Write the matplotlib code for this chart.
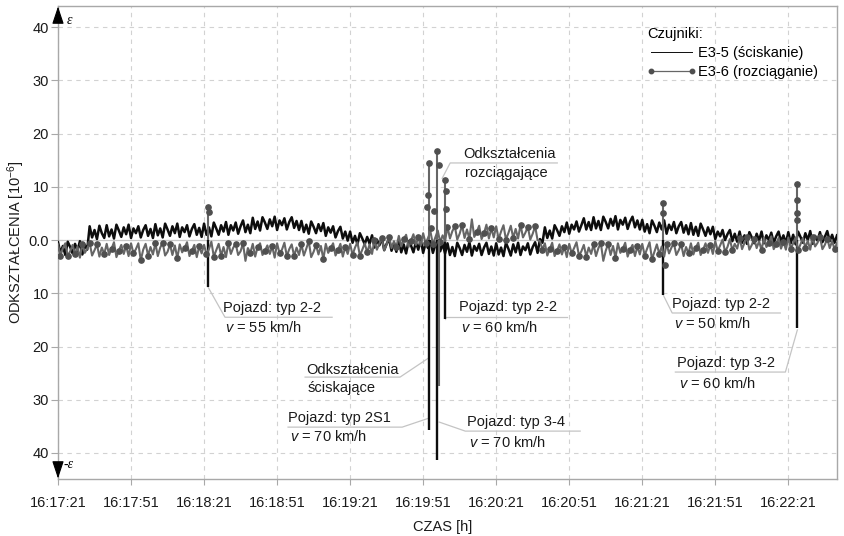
import matplotlib
matplotlib.use("Agg")
import matplotlib.pyplot as plt
from matplotlib.lines import Line2D
import numpy as np

plt.rcParams["font.family"] = ["Liberation Sans", "DejaVu Sans"]
plt.rcParams["mathtext.fontset"] = "custom"
plt.rcParams["mathtext.rm"] = "Liberation Sans"
plt.rcParams["mathtext.it"] = "Liberation Sans:italic"

# ── data (seconds from 16:17:21, strain 1e-6, + = tension) ──────────
t_step = 1
e35_vals = [  # E3-5 (compression sensor), every 1 s
    -0.4, -2.4, -1.1, -2.8, -0.3, -1.3, -2.5, -0.7, -2.0, -0.2, -2.7, -0.9, -1.8, 2.6, 0.5, 1.9, 0.2, 2.7, 1.3, 0.4,
    2.8, 0.7, 2.0, 0.3, 2.9, 1.8, 0.6, 2.4, 1.1, 2.9, 0.4, 2.2, 1.3, 2.6, 0.5, 1.9, 2.8, 0.8, 2.1, 0.4,
    3.0, 0.9, 2.2, 0.5, 3.1, 2.0, 0.8, 2.6, 1.3, 3.1, 0.6, 2.4, 1.5, 2.8, 0.7, 2.1, 3.0, 1.0, 2.3, 0.6,
    3.1, 1.0, 2.4, 0.7, 3.3, 2.2, 1.0, 2.8, 1.6, 3.4, 1.0, 2.8, 1.8, 3.3, 1.2, 2.6, 3.7, 1.5, 2.9, 1.3,
    4.2, 2.1, 3.5, 1.8, 4.3, 3.3, 2.1, 3.9, 2.6, 4.4, 1.9, 3.7, 2.8, 4.1, 2.0, 3.4, 4.3, 2.3, 3.6, 1.9,
    3.6, 1.5, 2.9, 1.2, 3.5, 2.5, 1.3, 3.0, 1.7, 3.2, 0.8, 2.4, 1.4, 2.6, 0.5, 1.7, 2.5, 0.3, 1.6, -0.1,
    1.6, -0.5, 0.8, -0.8, 1.3, 0.3, -0.8, 0.6, -0.7, 0.9, -1.4, 0.1, -1.0, 0.4, -1.9, -0.7, 0.2, -2.0, -0.6, -2.2,
    -0.1, -2.3, -0.8, -2.5, -0.2, -1.0, -2.3, -0.4, -1.8, 0.1, -2.4, -0.6, -1.5, -0.2, -2.4, -0.9, 0.0, -2.1, -0.7, -2.5,
    -0.6, -2.8, -1.3, -3.0, -0.5, -1.5, -2.8, -0.9, -2.2, -0.4, -2.9, -1.1, -2.0, -0.7, -2.8, -1.4, -0.5, -2.6, -1.2, -2.9,
    -0.6, -2.7, -1.4, -3.0, -0.5, -1.6, -2.9, -0.8, -2.3, -0.5, -2.8, -1.2, -1.9, -0.6, -2.7, -1.3, -0.4, -2.4, 0.2, -0.5,
    2.4, 0.4, 1.8, 0.3, 2.8, 1.9, 0.8, 2.6, 1.5, 3.3, 1.2, 2.9, 2.0, 3.5, 1.6, 2.8, 4.1, 2.0, 3.4, 1.9,
    4.3, 2.2, 3.6, 1.9, 4.4, 3.4, 2.2, 4.0, 2.7, 4.5, 2.0, 3.8, 2.9, 4.2, 2.1, 3.5, 4.4, 2.4, 3.7, 2.0,
    3.8, 1.6, 3.0, 1.3, 3.7, 2.7, 1.5, 3.3, 2.0, 3.7, 1.2, 2.9, 1.9, 3.4, 1.3, 2.6, 3.4, 1.4, 2.8, 1.1,
    3.2, 1.0, 2.5, 0.8, 3.1, 2.0, 0.8, 2.4, 1.1, 2.5, 0.2, 1.6, 0.7, 1.9, 0.0, 1.1, 1.9, -0.2, 1.2, -0.3,
    1.6, -0.5, 0.9, -0.7, 1.5, 0.5, -0.6, 1.2, -0.1, 1.6, -0.6, 0.9, 0.0, 1.4, -0.5, 0.7, 1.6, -0.3, 0.9, -0.6,
    1.5, -0.6, 1.0, -0.8, 1.6, 0.6, -0.5, 1.3, 0.0, 1.7, -0.7, 0.8, -0.1, 1.5, -0.4, 0.6, 1.7, -0.2, 1.0, -0.5,
    0.9,
]
e36_vals = [  # E3-6 (tension sensor), every 1 s
    -0.8, -2.9, -1.5, -0.6, -3.0, -2.1, -0.9, -2.7, -1.2, -3.3, -0.7, -2.4, -1.6, -0.5, -2.9, -1.9, -0.8, -3.1, -1.4, -2.6,
    -0.7, -2.8, -1.6, -0.4, -3.2, -2.0, -0.9, -2.6, -1.1, -3.0, -0.6, -2.5, -1.7, -0.6, -3.8, -1.8, -0.7, -2.9, -1.3, -2.7,
    -0.6, -3.0, -1.4, -0.5, -2.9, -2.2, -0.8, -2.8, -1.0, -3.4, -0.8, -2.3, -1.5, -0.4, -3.0, -2.0, -0.9, -3.2, -1.2, -2.5,
    -0.9, -2.7, -1.7, -0.3, -3.1, -1.9, -0.7, -2.9, -1.3, -3.2, -0.5, -2.6, -1.4, -0.7, -2.8, -2.1, -0.6, -3.9, -1.5, -2.4,
    -0.7, -3.1, -1.3, -0.6, -2.8, -2.0, -1.0, -2.6, -1.2, -3.3, -0.6, -2.5, -1.8, -0.5, -3.0, -1.7, -0.8, -3.0, -1.4, -2.8,
    -0.8, -2.9, -1.6, -0.2, -3.2, -2.2, -0.9, -2.7, -1.1, -3.6, -0.7, -2.4, -1.5, -0.6, -2.9, -1.9, -0.7, -3.1, -1.3, -2.6,
    -0.7, -2.8, -1.4, -0.4, -2.9, -1.8, -0.6, -2.3, -0.8, -2.6, 0.0, -1.8, -0.7, 0.4, -1.9, -0.8, 0.6, -1.5, -0.2, -1.3,
    0.8, -1.2, 0.2, 1.0, -1.3, -0.1, 1.1, -0.9, 0.5, -1.0, 1.3, -0.6, 0.4, 1.6, -0.8, 0.5, 1.8, -0.4, 0.9, -0.2,
    2.5, 0.3, 1.7, 2.6, 0.1, 1.2, 2.8, 0.4, 2.0, 0.2, 3.9, 0.6, 1.5, 2.7, 0.2, 1.3, 2.9, 0.3, 2.2, 0.5,
    2.6, 0.2, 1.6, 2.8, 0.1, 1.3, 2.7, 0.4, 2.1, 0.3, 2.9, 0.5, 1.4, 2.5, 0.1, 1.2, 2.6, 0.0, -0.2, -1.8,
    -0.6, -2.9, -1.7, -0.5, -3.0, -2.0, -0.8, -2.7, -1.3, -3.2, -0.7, -2.5, -1.5, -0.4, -2.9, -2.1, -0.9, -3.1, -1.4, -2.6,
    -0.8, -3.0, -1.5, -0.6, -3.9, -2.0, -0.7, -2.8, -1.1, -3.3, -0.6, -2.4, -1.6, -0.5, -3.1, -1.8, -0.9, -3.0, -1.2, -2.7,
    -0.7, -2.9, -1.6, -0.4, -3.6, -2.2, -0.8, -2.6, -1.2, -3.1, -0.7, -2.5, -1.4, -0.6, -2.8, -1.9, -0.8, -3.0, -1.3, -2.5,
    -0.6, -2.7, -1.4, -0.5, -2.8, -1.8, -0.6, -2.4, -0.9, -2.6, -0.2, -2.0, -1.0, 0.1, -2.2, -1.3, 0.2, -1.9, -0.7, -1.6,
    0.4, -1.7, -0.5, 0.6, -1.8, -0.9, 0.3, -1.5, -0.2, -1.9, 0.5, -1.3, -0.6, 0.7, -1.7, -0.8, 0.4, -1.6, -0.3, -1.8,
    0.5, -1.6, -0.6, 0.5, -1.9, -0.8, 0.4, -1.4, -0.1, -1.8, 0.6, -1.2, -0.5, 0.6, -1.7, -0.9, 0.3, -1.5, -0.2, -1.7,
    -0.5,
]

# vehicle passages (peak values)
e35_spike_t = [61.6, 152.5, 155.8, 159.0, 248.6, 303.7]
e35_spike_v = [-8.8, -35.7, -41.4, -14.8, -10.3, -16.5]
e36_spike_t = [61.6, 152.5, 155.8, 156.6, 159.0, 248.6, 303.7]
e36_spike_v = [6.2, 14.5, 16.7, -27.4, 11.3, 7.0, 10.5]
e36_dot_t = [61.6, 62.1, 151.6, 152.1, 152.5, 154.5, 155.8, 156.6, 159.0,
             159.5, 159.5, 153.3, 248.6, 248.6, 249.4, 303.7, 303.7, 303.7,
             303.7]
e36_dot_v = [6.2, 5.3, 6.2, 8.5, 14.5, 5.5, 16.7, 14.1, 11.3,
             9.2, 5.8, 2.3, 7.0, 5.1, -4.7, 10.5, 7.5, 5.1, 3.8]

xtick_labels = ["16:17:21", "16:17:51", "16:18:21", "16:18:51", "16:19:21",
                "16:19:51", "16:20:21", "16:20:51", "16:21:21", "16:21:51",
                "16:22:21"]
ytick_vals = [-40, -30, -20, -10, 0, 10, 20, 30, 40]
ytick_labels = ["40", "30", "20", "10", "0.0", "10", "20", "30", "40"]

# annotations: line1, line2, tip, elbow, end of underline, text x, y1, y2
notes = [
    ("Pojazd: typ 2-2", "$v$ = 55 km/h", (61.6, -8.8), (68.6, -14.5), (112.6, -14.5), 67.8, -12.8, -16.4),
    ("Odkształcenia", "rozciągające", (157.8, 11.6), (161.1, 14.5), (205.1, 14.5), 166.4, 16.2, 12.6),
    ("Pojazd: typ 2-2", "$v$ = 60 km/h", (159.0, -14.8), (159.0, -14.5), (209.2, -14.5), 164.8, -12.6, -16.4),
    ("Odkształcenia", "ściskające", (152.1, -22.2), (140.5, -25.75), (101.5, -25.75), 101.9, -24.4, -27.8),
    ("Pojazd: typ 2S1", "$v$ = 70 km/h", (152.1, -33.5), (141.4, -35.15), (94.5, -35.15), 94.5, -33.5, -37.0),
    ("Pojazd: typ 3-4", "$v$ = 70 km/h", (156.6, -34.2), (167.3, -35.9), (214.5, -35.9), 168.1, -34.2, -38.0),
    ("Pojazd: typ 2-2", "$v$ = 50 km/h", (248.6, -10.3), (252.3, -13.7), (296.7, -13.7), 252.3, -12.0, -15.6),
    ("Pojazd: typ 3-2", "$v$ = 60 km/h", (303.7, -16.9), (298.8, -24.8), (253.6, -24.8), 254.4, -23.1, -26.9),
]

# ── plot ─────────────────────────────────────────────────────────────
fig = plt.figure(figsize=(8.45, 5.36), dpi=100)
ax = fig.add_axes([58 / 845, 57 / 536, 779 / 845, 473 / 536])

t = np.arange(len(e35_vals)) * t_step
C_BLACK = "#0d0d0d"
C_GRAY = "#666666"
C_DOT = "#4f4f4f"
C_LEAD = "#c4c4c4"
FS = 10.5

ax.axhline(0, color="#c8c8c8", lw=0.9, zorder=1)
ax.plot(t, e35_vals, color=C_BLACK, lw=1.8, zorder=3)
ax.vlines(e35_spike_t, 0, e35_spike_v, color=C_BLACK, lw=1.7, zorder=3)
ax.plot(t, e36_vals, color=C_GRAY, lw=1.5, marker="o", ms=3.8,
        mfc=C_DOT, mec=C_DOT, markevery=(1, 3), zorder=4)
ax.vlines(e36_spike_t, 0, e36_spike_v, color=C_GRAY, lw=1.5, zorder=4)
ax.plot(e36_dot_t, e36_dot_v, ls="none", marker="o", ms=3.8,
        color=C_DOT, zorder=5)

for l1, l2, tip, elb, end, tx, y1, y2 in notes:
    ax.plot([tip[0], elb[0], end[0]], [tip[1], elb[1], end[1]],
            color=C_LEAD, lw=0.9, zorder=2)
    ax.text(tx, y1, l1, fontsize=FS, ha="left", va="center", color="#1a1a1a")
    ax.text(tx + 0.8, y2, l2, fontsize=FS, ha="left", va="center", color="#1a1a1a")

ax.set_xlim(0, 320)
ax.set_ylim(-44.9, 44.0)
ax.set_xticks(np.arange(len(xtick_labels)) * 30)
ax.set_xticklabels(xtick_labels)
ax.set_yticks(ytick_vals)
ax.set_yticklabels(ytick_labels)
ax.grid(True, color="#d2d2d2", ls=(0, (4, 4)), lw=0.8, zorder=0)
ax.set_axisbelow(True)

for s in ax.spines.values():
    s.set_color("#a8a8a8")
    s.set_linewidth(1.0)
ax.tick_params(axis="x", length=4, color="#a8a8a8", pad=8.5,
               labelsize=FS, labelcolor="#1a1a1a")
ax.tick_params(axis="y", length=5, color="#a8a8a8", pad=1.5,
               labelsize=FS, labelcolor="#1a1a1a")

ax.set_xlabel("CZAS [h]", fontsize=FS, color="#1a1a1a")
ax.xaxis.set_label_coords(0.494, -0.086)
ax.set_ylabel("ODKSZTAŁCENIA [10$^{\\mathregular{-6}}$]", fontsize=FS,
              color="#1a1a1a")
ax.yaxis.set_label_coords(-0.040, 0.50)

# axis direction arrows with epsilon marks
ax.annotate("", xy=(0, 0.999), xytext=(0, 0.974), xycoords="axes fraction",
            arrowprops=dict(arrowstyle="-|>,head_length=0.9,head_width=0.3",
                            color="black", lw=0.8, mutation_scale=12,
                            shrinkA=0, shrinkB=0), annotation_clip=False)
ax.annotate("", xy=(0, 0.001), xytext=(0, 0.026), xycoords="axes fraction",
            arrowprops=dict(arrowstyle="-|>,head_length=0.9,head_width=0.3",
                            color="black", lw=0.8, mutation_scale=12,
                            shrinkA=0, shrinkB=0), annotation_clip=False)
ax.text(0.0116, 0.970, "ε", transform=ax.transAxes, fontsize=10,
        family="Liberation Serif", style="italic", ha="left", va="center")
ax.text(0.0064, 0.030, "-ε", transform=ax.transAxes, fontsize=10,
        family="Liberation Serif", style="italic", ha="left", va="center")

handles = [
    Line2D([], [], color=C_BLACK, lw=0.7),
    Line2D([], [], color=C_GRAY, lw=0.9, marker="o", ms=3.2,
           mfc=C_DOT, mec=C_DOT),
]
leg = ax.legend(handles, ["E3-5 (ściskanie)", "E3-6 (rozciąganie)"],
                title="Czujniki:", loc="upper left",
                bbox_to_anchor=(0.756, 0.955), frameon=False, fontsize=FS,
                title_fontsize=FS, numpoints=2, handlelength=3.4,
                handletextpad=0.1, labelspacing=0.33, borderpad=0,
                borderaxespad=0, alignment="left")

fig.savefig("out.png", dpi=100, facecolor="white")
plt.close(fig)
